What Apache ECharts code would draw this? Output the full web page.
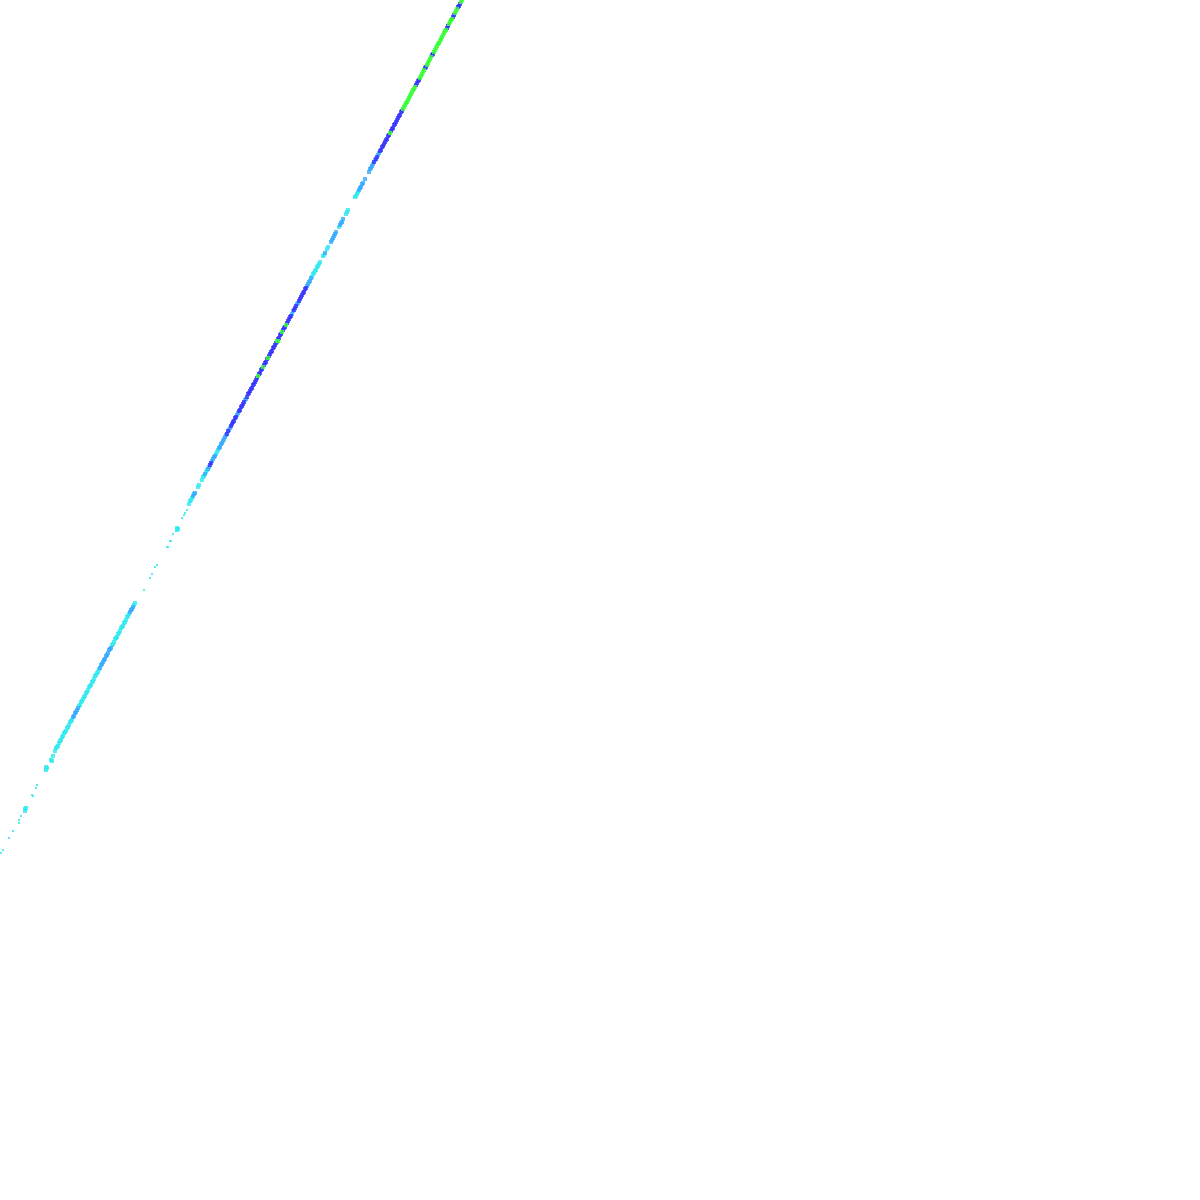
<!DOCTYPE html>
<html><head><meta charset="utf-8">
<style>html,body{margin:0;padding:0;background:#fff}#c{width:1200px;height:1200px}</style>
<script src="https://cdn.jsdelivr.net/npm/echarts@6/dist/echarts.min.js"></script>
</head><body><div id="c"></div>
<script>
const cyanSparse=[[1,347],[3,350],[9,362],[13,369],[19,377],[19,380],[21,384],[32,405],[33,404],[36,412],[37,415],[144,610],[150,622],[152,626],[155,633],[157,635],[167,653],[168,653],[170,659],[171,659],[173,666],[182,682],[184,685],[185,687],[187,690],[326,949]];
const cyanBlobs=[[25,389],[25,391],[26,392],[46,430],[46,433],[47,432],[52,439],[53,444],[51,440],[177,670],[177,672],[178,671],[198,713],[199,715]];
const cyan=[[55,449],[56,452],[57,453],[58,454],[59,457],[60,459],[61,460],[62,463],[63,464],[64,467],[65,468],[66,469],[67,472],[68,473],[69,475],[70,478],[71,479],[72,480],[79,494],[80,495],[81,498],[82,499],[83,501],[84,503],[85,504],[86,507],[87,508],[88,510],[89,513],[90,514],[91,515],[92,518],[93,519],[94,521],[95,524],[96,525],[97,527],[98,528],[99,531],[112,555],[113,556],[114,558],[115,561],[116,562],[117,563],[118,566],[119,567],[120,569],[121,572],[122,573],[123,574],[124,577],[125,578],[126,580],[127,583],[128,584],[129,586],[134,595],[135,597],[189,696],[190,699],[191,700],[192,702],[202,720],[203,723],[204,724],[206,728],[207,730],[216,746],[217,748],[218,750],[312,923],[313,926],[314,927],[315,929],[316,930],[317,933],[318,934],[319,936],[320,938],[323,944],[324,945],[327,951],[328,953],[339,973],[346,986],[347,988],[348,990],[355,1003],[356,1004],[357,1006],[358,1008]];
const sky=[[73,483],[74,484],[75,487],[76,488],[77,490],[78,492],[100,532],[101,535],[102,536],[103,538],[104,540],[105,541],[106,544],[107,545],[108,547],[109,550],[110,551],[111,552],[130,588],[131,590],[132,591],[133,593],[193,704],[194,706],[195,707],[205,726],[208,731],[209,733],[212,739],[213,741],[214,743],[215,744],[219,752],[220,753],[221,756],[222,757],[223,759],[224,761],[225,763],[226,765],[229,770],[230,772],[237,785],[238,787],[245,800],[246,801],[277,858],[292,886],[293,889],[297,896],[298,897],[307,914],[308,916],[309,918],[310,919],[311,922],[325,947],[331,958],[332,960],[333,962],[334,964],[335,966],[336,968],[340,975],[341,977],[342,978],[343,981],[359,1010],[360,1012],[361,1013],[362,1016],[363,1017],[365,1021],[369,1028],[370,1031],[371,1032],[372,1034],[373,1036],[375,1040],[378,1045],[379,1047]];
const blue=[[210,735],[211,737],[227,766],[228,769],[231,774],[232,776],[233,778],[234,779],[235,782],[236,783],[239,789],[240,790],[241,793],[242,794],[243,796],[244,798],[247,803],[248,806],[249,807],[250,809],[251,811],[252,812],[253,815],[254,816],[255,818],[256,820],[257,822],[259,826],[260,827],[261,830],[262,831],[264,835],[265,837],[266,838],[267,841],[269,844],[270,846],[271,848],[272,849],[273,852],[274,853],[275,855],[276,857],[278,861],[279,862],[280,865],[281,866],[283,870],[284,872],[285,873],[287,877],[288,879],[289,881],[290,883],[291,884],[294,890],[295,892],[296,894],[299,899],[300,901],[301,903],[302,905],[303,907],[304,908],[305,911],[306,912],[374,1038],[376,1041],[377,1043],[380,1049],[381,1050],[382,1053],[383,1054],[384,1056],[385,1058],[386,1060],[387,1061],[388,1064],[389,1065],[391,1069],[392,1071],[393,1072],[394,1075],[395,1076],[396,1078],[397,1080],[398,1082],[399,1084],[400,1085],[401,1088],[402,1089],[416,1115],[417,1117],[418,1119],[419,1120],[425,1132],[426,1133],[432,1145],[433,1146],[447,1172],[448,1174],[453,1183],[454,1185],[458,1193],[459,1194],[460,1196]];
const green=[[258,824],[263,833],[268,842],[277,859],[278,859],[282,868],[286,875],[390,1067],[403,1091],[404,1093],[405,1095],[406,1097],[407,1098],[408,1100],[409,1102],[410,1104],[411,1106],[412,1108],[413,1110],[414,1111],[415,1113],[420,1122],[421,1124],[422,1126],[423,1128],[424,1130],[427,1135],[428,1137],[429,1139],[430,1141],[431,1143],[434,1148],[435,1150],[436,1152],[437,1154],[438,1156],[439,1157],[440,1159],[441,1161],[442,1163],[443,1165],[444,1167],[445,1169],[446,1170],[449,1176],[450,1178],[451,1180],[452,1181],[455,1187],[456,1189],[457,1191],[461,1198],[462,1200]];
const chart=echarts.init(document.getElementById('c'),null,{renderer:'canvas'});
function layer(data,color,size){return {type:'scatter',data:data,symbol:'rect',symbolSize:size,itemStyle:{color:color},animation:false,silent:true,large:false};}
chart.setOption({
  animation:false,backgroundColor:'#ffffff',
  grid:{left:0,right:0,top:0,bottom:0},
  xAxis:{type:'value',min:0,max:1200,show:false},
  yAxis:{type:'value',min:0,max:1200,show:false},
  series:[
    layer(cyanSparse,'#2ee8f0',2),
    layer(cyanBlobs,'#2ee8f0',4),
    layer(cyan,'#2ee8f0',4),
    layer(sky,'#33aaff',4),
    layer(blue,'#3333ff',4),
    layer(green,'#33ff33',4)
  ]
});
</script></body></html>
